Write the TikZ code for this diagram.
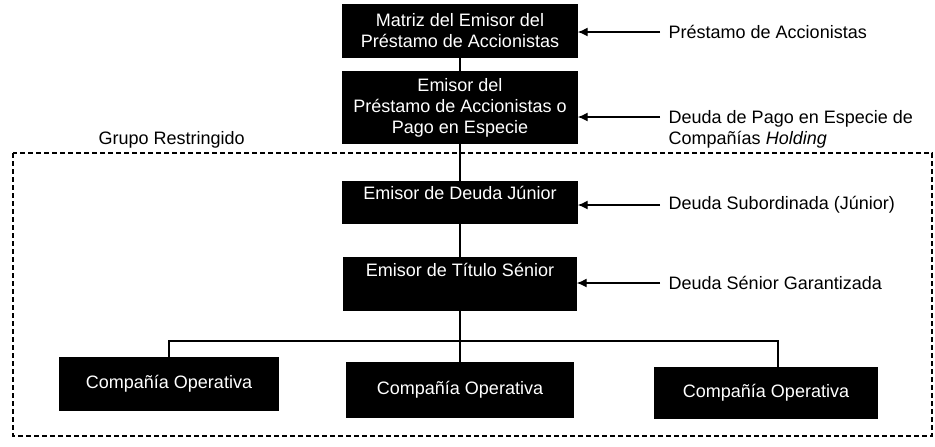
\documentclass[tikz,border=0pt]{standalone}
\usepackage{fontspec}
\setmainfont{Liberation Sans}
\usetikzlibrary{arrows.meta}

\begin{document}
\begin{tikzpicture}[x=0.5pt,y=-0.5pt,>={Latex[length=5pt,width=4.5pt]},line width=0.7pt,
font=\fontsize{9}{10.5}\selectfont,
entity/.style={draw=black,fill=black,text=white,align=center,inner sep=2pt},
debt/.style={anchor=west,align=left,inner xsep=4pt,inner ysep=0pt}]

\useasboundingbox (0,0) rectangle (935,446);

\draw[line width=0.6pt,dash pattern=on 2.5pt off 1.5pt] (13,153) rectangle (932,436);

\node[entity,minimum width=117pt,minimum height=26pt](matriz) at (460,31){Matriz del Emisor del\\Préstamo de Accionistas};
\node[entity,minimum width=117pt,minimum height=35.5pt](emisor) at (460,107.5){Emisor del\\Préstamo de Accionistas o\\Pago en Especie};
\node[entity,minimum width=117pt,minimum height=20.5pt,text depth=10pt](junior) at (460,202.5){Emisor de Deuda Júnior};
\node[entity,minimum width=116pt,minimum height=26pt,text depth=14pt](senior) at (460,284){Emisor de Título Sénior};
\node[entity,minimum width=109pt,minimum height=26pt](c1) at (169,384){Compañía Operativa};
\node[entity,minimum width=113.5pt,minimum height=27pt](c2) at (460,390){Compañía Operativa};
\node[entity,minimum width=111pt,minimum height=25pt](c3) at (766,393){Compañía Operativa};
\coordinate (bus) at (460,341);
\coordinate (c3top) at (778,380);

\node[debt](prestamo) at (660,32){Préstamo de Accionistas};
\coordinate (pikin) at (660,117);
\node[debt,anchor=north west](pik) at (660,110){Deuda de Pago en Especie de\\Compañías \textit{Holding}};
\node[debt](subord) at (660,205){Deuda Subordinada (Júnior)};
\node[debt](garant) at (660,283){Deuda Sénior Garantizada};
\node[debt](grupo) at (90,140){Grupo Restringido};

\path (matriz) edge (emisor)
(emisor) edge (junior)
(junior) edge (senior)
(senior) edge (c2);
\draw (c1.north) |- (bus) -| (c3top |- c3.north);

\path[->] (prestamo.west) edge (prestamo.west -| matriz.east)
(pikin) edge (pikin -| emisor.east)
(subord.west) edge (subord.west -| junior.east)
(garant.west) edge (garant.west -| senior.east);

\end{tikzpicture}
\end{document}
